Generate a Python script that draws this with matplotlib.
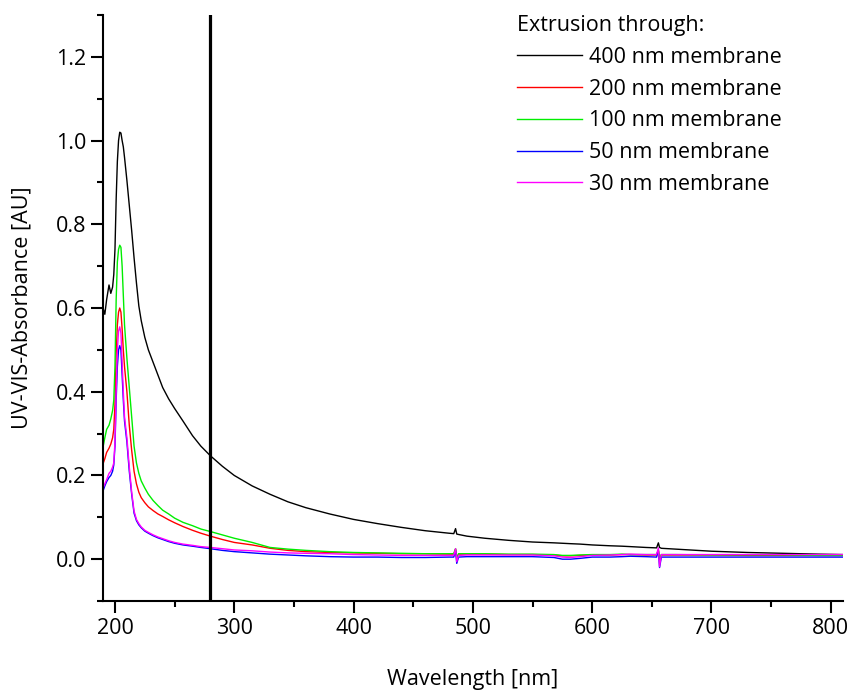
import numpy as np
import matplotlib
matplotlib.use("Agg")
import matplotlib.pyplot as plt
from matplotlib.ticker import MultipleLocator, FormatStrFormatter

plt.rcParams['font.family'] = ['Open Sans', 'DejaVu Sans']

# wavelength grid (nm) shared by all spectra
wavelength = [
    190, 191.5, 193, 195, 196.5, 198, 199, 200, 201, 202,
    203, 204, 205, 206, 207, 208, 210, 212, 214, 216,
    218, 220, 222, 225, 228, 232, 236, 240, 245, 250,
    257, 265, 272, 280, 290, 300, 315, 330, 345, 360,
    380, 400, 420, 440, 460, 480, 484, 485.5, 486.5, 488,
    495, 510, 530, 550, 568, 575, 582, 590, 600, 615,
    625, 632, 645, 654, 655.5, 656.5, 658, 670, 700, 730,
    760, 790, 810,
]

abs_400nm = [
    0.600, 0.585, 0.620, 0.655, 0.635, 0.650, 0.680, 0.740, 0.860, 0.950,
    1.000, 1.020, 1.018, 1.000, 0.985, 0.960, 0.905, 0.845, 0.785, 0.720,
    0.660, 0.605, 0.570, 0.530, 0.500, 0.470, 0.440, 0.410, 0.383, 0.360,
    0.330, 0.295, 0.270, 0.247, 0.222, 0.200, 0.175, 0.155, 0.137, 0.123,
    0.108, 0.095, 0.085, 0.076, 0.068, 0.062, 0.061, 0.073, 0.060, 0.059,
    0.055, 0.050, 0.045, 0.041, 0.039, 0.038, 0.037, 0.036, 0.034, 0.032,
    0.031, 0.030, 0.028, 0.027, 0.039, 0.028, 0.026, 0.024, 0.019, 0.016,
    0.014, 0.012, 0.011,
]

abs_200nm = [
    0.228, 0.240, 0.255, 0.265, 0.275, 0.290, 0.310, 0.370, 0.490, 0.560,
    0.590, 0.600, 0.590, 0.550, 0.500, 0.460, 0.400, 0.320, 0.260, 0.210,
    0.180, 0.160, 0.147, 0.135, 0.125, 0.116, 0.108, 0.102, 0.094, 0.087,
    0.078, 0.069, 0.062, 0.055, 0.047, 0.040, 0.034, 0.026, 0.021, 0.018,
    0.016, 0.015, 0.014, 0.013, 0.013, 0.012, 0.012, 0.024, 0.002, 0.012,
    0.012, 0.012, 0.011, 0.011, 0.010, 0.008, 0.008, 0.009, 0.010, 0.010,
    0.011, 0.011, 0.010, 0.010, 0.021, -0.001, 0.010, 0.010, 0.010, 0.009,
    0.009, 0.009, 0.009,
]

abs_100nm = [
    0.268, 0.290, 0.310, 0.320, 0.335, 0.355, 0.380, 0.460, 0.620, 0.710,
    0.740, 0.750, 0.745, 0.700, 0.630, 0.560, 0.480, 0.410, 0.340, 0.270,
    0.230, 0.205, 0.187, 0.170, 0.155, 0.140, 0.128, 0.117, 0.108, 0.098,
    0.088, 0.080, 0.072, 0.066, 0.058, 0.050, 0.040, 0.028, 0.024, 0.021,
    0.018, 0.016, 0.015, 0.014, 0.013, 0.013, 0.013, 0.025, 0.003, 0.013,
    0.013, 0.013, 0.012, 0.012, 0.011, 0.009, 0.009, 0.010, 0.011, 0.011,
    0.012, 0.011, 0.011, 0.011, 0.022, 0.000, 0.011, 0.011, 0.010, 0.010,
    0.010, 0.009, 0.009,
]

abs_50nm = [
    0.163, 0.175, 0.185, 0.195, 0.200, 0.210, 0.225, 0.270, 0.380, 0.460,
    0.500, 0.510, 0.500, 0.440, 0.380, 0.330, 0.280, 0.210, 0.155, 0.110,
    0.092, 0.082, 0.075, 0.067, 0.062, 0.056, 0.051, 0.047, 0.042, 0.038,
    0.034, 0.031, 0.028, 0.025, 0.021, 0.018, 0.015, 0.012, 0.010, 0.008,
    0.006, 0.005, 0.005, 0.004, 0.004, 0.005, 0.005, 0.020, -0.010, 0.005,
    0.006, 0.006, 0.006, 0.006, 0.004, 0.000, 0.000, 0.002, 0.005, 0.005,
    0.006, 0.007, 0.006, 0.005, 0.020, -0.020, 0.005, 0.005, 0.005, 0.005,
    0.005, 0.005, 0.005,
]

abs_30nm = [
    0.170, 0.180, 0.190, 0.205, 0.210, 0.220, 0.230, 0.280, 0.400, 0.500,
    0.545, 0.555, 0.540, 0.470, 0.400, 0.340, 0.290, 0.220, 0.160, 0.115,
    0.095, 0.085, 0.077, 0.069, 0.064, 0.058, 0.053, 0.049, 0.044, 0.040,
    0.036, 0.033, 0.030, 0.028, 0.025, 0.022, 0.020, 0.017, 0.015, 0.014,
    0.013, 0.011, 0.010, 0.009, 0.009, 0.009, 0.009, 0.025, -0.006, 0.009,
    0.010, 0.010, 0.010, 0.010, 0.008, 0.005, 0.004, 0.006, 0.009, 0.010,
    0.011, 0.012, 0.011, 0.011, 0.027, -0.018, 0.011, 0.011, 0.011, 0.011,
    0.011, 0.011, 0.011,
]

series = [
    ('400 nm membrane', abs_400nm, '#000000'),
    ('200 nm membrane', abs_200nm, '#ff0000'),
    ('100 nm membrane', abs_100nm, '#00ee00'),
    ('50 nm membrane', abs_50nm, '#0000ff'),
    ('30 nm membrane', abs_30nm, '#ff00ff'),
]
marker_wavelength = 280

fig = plt.figure(figsize=(8.53, 6.91), dpi=100)
ax = fig.add_axes([0.1208, 0.1302, 0.8671, 0.8481])

for label, values, color in series:
    ax.plot(wavelength, values, color=color, lw=1.0, label=label)

ax.axvline(marker_wavelength, color='black', lw=2.3)

ax.set_xlim(190, 810)
ax.set_ylim(-0.1, 1.3)

for side in ['top', 'right']:
    ax.spines[side].set_visible(False)
for side in ['left', 'bottom']:
    ax.spines[side].set_linewidth(1.5)

ax.xaxis.set_major_locator(MultipleLocator(100))
ax.xaxis.set_minor_locator(MultipleLocator(50))
ax.yaxis.set_major_locator(MultipleLocator(0.2))
ax.yaxis.set_minor_locator(MultipleLocator(0.1))
ax.yaxis.set_major_formatter(FormatStrFormatter('%.1f'))
ax.tick_params(which='major', direction='out', length=8.6, width=1.5, labelsize=15.5)
ax.tick_params(which='minor', direction='out', length=4.5, width=1.5)

ax.set_xlabel('Wavelength [nm]', fontsize=15.5, labelpad=22)
ax.set_ylabel('UV-VIS-Absorbance [AU]', fontsize=15.5, labelpad=17)

leg = ax.legend(title='Extrusion through:', loc='upper left',
                bbox_to_anchor=(0.5552, 1.0052), frameon=False, fontsize=15.5,
                title_fontsize=15.5, handlelength=3.0, handletextpad=0.35,
                labelspacing=0.5, alignment='left', borderpad=0.15,
                borderaxespad=0)

fig.savefig('out.png', dpi=100)
